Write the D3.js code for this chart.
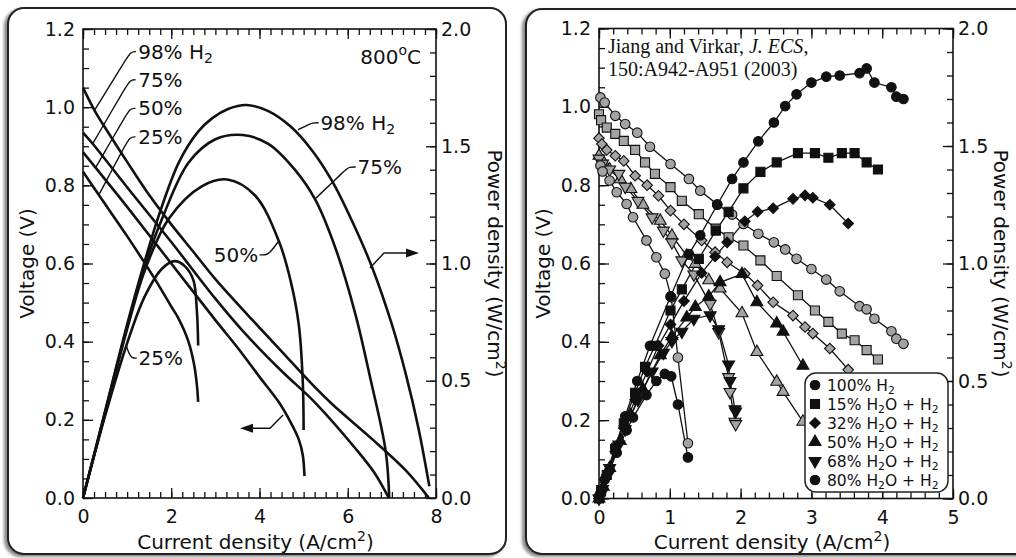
<!DOCTYPE html>
<html>
<head>
<meta charset="utf-8">
<script src="https://cdn.jsdelivr.net/npm/d3@7"></script>
<style>
  html, body { margin: 0; padding: 0; background: #fff; }
  svg { display: block; }
  text { font-family: "DejaVu Sans", sans-serif; fill: #111; }
  .tick text { font-size: 19px; }
  .serif { font-family: "Liberation Serif", "DejaVu Serif", serif; }
</style>
</head>
<body>
<svg id="chart" width="1016" height="558"></svg>
<script>
// ---------- Left panel: model curves at 800 °C (current density A/cm², voltage V, power W/cm²) ----------
const modelV98 = [[0,1.05],[0.27,0.99],[0.6,0.93],[1.0,0.86],[1.5,0.775],[2.0,0.70],[2.5,0.63],[3.0,0.56],[3.76,0.465],[4.5,0.375],[5.2,0.29],[5.65,0.24],[6.56,0.15],[7.32,0.07],[7.84,0.0]];
const modelV75 = [[0,0.935],[0.23,0.905],[1.0,0.795],[2.0,0.655],[3.0,0.51],[3.64,0.425],[4.5,0.325],[5.27,0.243],[6.18,0.126],[6.6,0.065],[6.93,0.0]];
const modelV50 = [[0,0.885],[0.28,0.846],[1.0,0.745],[2.0,0.60],[3.0,0.455],[3.5,0.385],[4.0,0.31],[4.44,0.245],[4.7,0.195],[4.89,0.15],[4.98,0.11],[5.02,0.056]];
const modelV25 = [[0,0.835],[0.36,0.775],[1.0,0.67],[1.63,0.56],[2.0,0.49],[2.16,0.46],[2.39,0.40],[2.52,0.34],[2.58,0.29],[2.61,0.246]];

const modelP98 = [[0,0],[0.5,0.37],[1.0,0.74],[1.4,1.01],[1.71,1.2],[2.17,1.43],[2.6,1.56],[2.93,1.62],[3.3,1.66],[3.7,1.676],[4.2,1.65],[4.7,1.585],[5.2,1.48],[5.65,1.35],[6.1,1.18],[6.56,0.98],[7.0,0.74],[7.32,0.525],[7.6,0.3],[7.85,0.05]];
const modelP75 = [[0,0],[0.5,0.365],[1.0,0.73],[1.4,0.99],[1.79,1.19],[2.39,1.43],[3.0,1.53],[3.62,1.548],[4.2,1.51],[4.8,1.40],[5.27,1.27],[5.75,1.05],[6.18,0.779],[6.5,0.52],[6.86,0.2],[6.94,0.0]];
const modelP50 = [[0,0],[0.5,0.36],[1.0,0.72],[1.4,0.97],[1.94,1.19],[2.7,1.33],[3.27,1.358],[3.9,1.29],[4.44,1.095],[4.7,0.93],[4.89,0.74],[4.98,0.5],[5.0,0.29]];
const modelP25 = [[0,0],[0.5,0.35],[1.0,0.66],[1.4,0.86],[1.8,0.98],[2.08,1.01],[2.3,0.99],[2.5,0.93],[2.58,0.8],[2.61,0.65]];

// ---------- Right panel: measured data (Jiang and Virkar) ----------
const cur100 = [0.02,0.08,0.23,0.37,0.54,0.72,1.01,1.27,1.43,1.67,1.88,2.04,2.25,2.47,2.63,2.79,3.00,3.21,3.40,3.68,3.78,3.89,4.13,4.20,4.30];
const volt100 = [1.024,1.011,0.977,0.956,0.934,0.898,0.854,0.816,0.786,0.751,0.725,0.701,0.676,0.654,0.636,0.612,0.586,0.559,0.529,0.491,0.483,0.459,0.427,0.408,0.395];
const pow100 = [0.02,0.08,0.22,0.35,0.50,0.65,0.86,1.04,1.12,1.25,1.36,1.43,1.52,1.60,1.67,1.72,1.77,1.795,1.80,1.81,1.83,1.77,1.75,1.71,1.70];

const cur15 = [0.0,0.03,0.11,0.23,0.35,0.51,0.65,0.79,1.01,1.17,1.41,1.65,1.83,2.04,2.28,2.51,2.81,3.05,3.24,3.43,3.61,3.78,3.94];
const volt15 = [0.981,0.966,0.947,0.931,0.913,0.890,0.858,0.829,0.795,0.760,0.726,0.689,0.667,0.646,0.608,0.568,0.519,0.480,0.451,0.421,0.404,0.379,0.355];
const pow15 = [0.0,0.03,0.10,0.21,0.32,0.45,0.56,0.65,0.80,0.89,1.02,1.14,1.22,1.32,1.39,1.43,1.47,1.47,1.45,1.47,1.47,1.43,1.40];

const cur32 = [0.0,0.04,0.11,0.23,0.35,0.51,0.68,0.84,1.01,1.2,1.45,1.64,1.81,2.06,2.24,2.46,2.74,2.91,3.02,3.26,3.52];
const volt32 = [0.92,0.905,0.89,0.875,0.862,0.824,0.80,0.773,0.735,0.70,0.659,0.629,0.603,0.574,0.544,0.501,0.467,0.438,0.421,0.383,0.329];
const pow32 = [0.0,0.04,0.10,0.20,0.30,0.42,0.54,0.65,0.74,0.84,0.96,1.03,1.09,1.18,1.22,1.235,1.275,1.29,1.28,1.25,1.17];

const cur50 = [0.0,0.06,0.15,0.3,0.45,0.62,0.865,1.03,1.24,1.36,1.55,1.71,2.02,2.23,2.51,2.60,2.88];
const volt50 = [0.875,0.86,0.84,0.815,0.79,0.75,0.709,0.671,0.62,0.599,0.557,0.536,0.473,0.374,0.298,0.272,0.196];
const pow50 = [0.0,0.05,0.13,0.245,0.355,0.465,0.61,0.69,0.77,0.815,0.86,0.92,0.955,0.835,0.745,0.71,0.565];

const cur68 = [0.0,0.05,0.15,0.28,0.37,0.55,0.75,0.91,1.03,1.17,1.34,1.57,1.69,1.83,1.85,1.92,1.93];
const volt68 = [0.868,0.855,0.84,0.829,0.796,0.76,0.718,0.684,0.654,0.608,0.572,0.497,0.425,0.31,0.272,0.196,0.19];
const pow68 = [0.0,0.04,0.13,0.23,0.295,0.42,0.54,0.62,0.67,0.71,0.765,0.78,0.72,0.57,0.50,0.38,0.37];

const cur80 = [0.02,0.05,0.15,0.25,0.39,0.48,0.67,0.81,0.93,1.02,1.115,1.256];
const volt80 = [0.85,0.835,0.812,0.782,0.752,0.718,0.659,0.616,0.574,0.514,0.36,0.141];
const pow80 = [0.02,0.04,0.12,0.195,0.29,0.345,0.44,0.50,0.53,0.52,0.40,0.175];

const legendNames = [
  [["100% H",""],["2","sub"]],
  [["15% H",""],["2","sub"],["O + H",""],["2","sub"]],
  [["32% H",""],["2","sub"],["O + H",""],["2","sub"]],
  [["50% H",""],["2","sub"],["O + H",""],["2","sub"]],
  [["68% H",""],["2","sub"],["O + H",""],["2","sub"]],
  [["80% H",""],["2","sub"],["O + H",""],["2","sub"]]
];
const legendShapes = ["circle","square","diamond","up","down","circle"];

// ---------- Tick values ----------
const leftXMajor = [0,2,4,6,8];
const leftXMinor = d3.range(0, 8.001, 0.25);
const rightXMajor = [0,1,2,3,4,5];
const rightXMinor = d3.range(0, 5.001, 0.2);
const voltMajor = [0,0.2,0.4,0.6,0.8,1.0,1.2];
const voltMinor = d3.range(0, 1.2001, 0.05);
const powMajor = [0,0.5,1.0,1.5,2.0];
const powMinor = d3.range(0, 2.0001, 0.1);

// ---------- Drawing ----------
const svg = d3.select("#chart");
const defs = svg.append("defs");
const sh = defs.append("filter").attr("id","shadow").attr("x","-5%").attr("y","-5%").attr("width","110%").attr("height","110%");
sh.append("feDropShadow").attr("dx",-3).attr("dy",2).attr("stdDeviation",1.6).attr("flood-color","#555").attr("flood-opacity",0.7);

// panel frames
svg.append("rect").attr("x",8).attr("y",8).attr("width",498).attr("height",546).attr("rx",16)
  .attr("fill","#fff").attr("stroke","#222").attr("stroke-width",2).attr("filter","url(#shadow)");
svg.append("rect").attr("x",526).attr("y",9).attr("width",520).attr("height",545).attr("rx",16)
  .attr("fill","#fff").attr("stroke","#222").attr("stroke-width",2).attr("filter","url(#shadow)");

function rich(sel, parts, size) {
  let off = 0;
  parts.forEach(([s, mode]) => {
    const target = mode === "sub" ? size * 0.22 : mode === "sup" ? -size * 0.42 : 0;
    const t = sel.append("tspan").text(s);
    if (target - off !== 0) t.attr("dy", target - off);
    if (mode) t.attr("font-size", size * 0.7);
    off = target;
  });
}

function axes(g, x, yV, yP, xMaj, xMin, powerTitleGap) {
  const [x0, x1] = x.range();
  const [yb, yt] = yV.range();
  // bottom
  g.append("g").attr("transform", `translate(0,${yb})`)
    .call(d3.axisBottom(x).tickValues(xMin).tickSize(-6).tickSizeOuter(0).tickFormat(""));
  g.append("g").attr("transform", `translate(0,${yb})`)
    .call(d3.axisBottom(x).tickValues(xMaj).tickSize(-10).tickSizeOuter(0).tickPadding(12).tickFormat(d3.format("d")));
  // top
  g.append("g").attr("transform", `translate(0,${yt})`)
    .call(d3.axisTop(x).tickValues(xMin).tickSize(-6).tickSizeOuter(0).tickFormat(""));
  g.append("g").attr("transform", `translate(0,${yt})`)
    .call(d3.axisTop(x).tickValues(xMaj).tickSize(-10).tickSizeOuter(0).tickFormat(""));
  // left (voltage)
  g.append("g").attr("transform", `translate(${x0},0)`)
    .call(d3.axisLeft(yV).tickValues(voltMinor).tickSize(-6).tickSizeOuter(0).tickFormat(""));
  g.append("g").attr("transform", `translate(${x0},0)`)
    .call(d3.axisLeft(yV).tickValues(voltMajor).tickSize(-10).tickSizeOuter(0).tickPadding(8).tickFormat(d3.format(".1f")));
  // right (power)
  g.append("g").attr("transform", `translate(${x1},0)`)
    .call(d3.axisRight(yP).tickValues(powMinor).tickSize(-6).tickSizeOuter(0).tickFormat(""));
  g.append("g").attr("transform", `translate(${x1},0)`)
    .call(d3.axisRight(yP).tickValues(powMajor).tickSize(-10).tickSizeOuter(0).tickPadding(5).tickFormat(d3.format(".1f")));
  g.selectAll(".domain").remove();
  g.selectAll(".tick line").attr("stroke", "#111").attr("stroke-width", 1.3);
  g.selectAll("g").attr("font-size", null).attr("font-family", null);
  g.append("rect").attr("x", x0).attr("y", yt).attr("width", x1 - x0).attr("height", yb - yt)
    .attr("fill", "none").attr("stroke", "#111").attr("stroke-width", 1.6);

  const cx = (x0 + x1) / 2;
  const title = g.append("text").attr("x", cx - 4).attr("y", 549).attr("text-anchor", "middle").attr("font-size", 20);
  rich(title, [["Current density (A/cm",""],["2","sup"],[")",""]], 20);
  const cy = (yb + yt) / 2;
  g.append("text").attr("transform", `translate(${x0 - 49},${cy}) rotate(-90)`)
    .attr("text-anchor", "middle").attr("font-size", 20).text("Voltage (V)");
  const pt = g.append("text").attr("transform", `translate(${x1 + powerTitleGap},${cy}) rotate(90)`)
    .attr("text-anchor", "middle").attr("font-size", 20);
  rich(pt, [["Power density (W/cm",""],["2","sup"],[")",""]], 20);
}

// ----- Left panel -----
const xL = d3.scaleLinear().domain([0, 8]).range([83, 436]);
const vL = d3.scaleLinear().domain([0, 1.2]).range([498, 29]);
const pL = d3.scaleLinear().domain([0, 2]).range([498, 29]);
const gL = svg.append("g");
axes(gL, xL, vL, pL, leftXMajor, leftXMinor, 52);

const curve = d3.curveCatmullRom.alpha(0.5);
const lineV = d3.line().x(d => xL(d[0])).y(d => vL(d[1])).curve(curve);
const lineP = d3.line().x(d => xL(d[0])).y(d => pL(d[1])).curve(curve);
const curveLayer = gL.append("g").attr("fill", "none").attr("stroke", "#111").attr("stroke-width", 2.6)
  .attr("stroke-linejoin", "round");
[modelV98, modelV75, modelV50, modelV25].forEach(d => curveLayer.append("path").attr("d", lineV(d)));
[modelP98, modelP75, modelP50, modelP25].forEach(d => curveLayer.append("path").attr("d", lineP(d)));

// labels and leaders, positioned in (current, voltage) units
const leaderLine = d3.line().x(d => xL(d[0])).y(d => vL(d[1])).curve(d3.curveBasis);
const leaders = [
  [[0.265,0.993],[0.95,1.118],[1.08,1.142],[1.20,1.142]],
  [[0.227,0.908],[0.95,1.048],[1.07,1.070],[1.19,1.070]],
  [[0.279,0.844],[0.95,0.975],[1.07,0.997],[1.19,0.997]],
  [[0.356,0.775],[0.95,0.902],[1.07,0.924],[1.19,0.924]],
  [[4.873,0.942],[5.10,0.955],[5.20,0.960],[5.34,0.960]],
  [[5.258,0.765],[5.95,0.840],[6.03,0.847],[6.18,0.847]],
  [[4.419,0.655],[4.22,0.625],[4.13,0.622],[4.00,0.622]],
  [[0.975,0.391],[1.04,0.370],[1.10,0.358],[1.22,0.358]]
];
const leaderLayer = gL.append("g").attr("fill", "none").attr("stroke", "#111").attr("stroke-width", 1.4);
leaders.forEach(d => leaderLayer.append("path").attr("d", leaderLine(d)));

const labels = [
  {t: [["98% H",""],["2","sub"]], i: 1.25, v: 1.142, a: "start"},
  {t: [["75%",""]], i: 1.25, v: 1.070, a: "start"},
  {t: [["50%",""]], i: 1.25, v: 0.997, a: "start"},
  {t: [["25%",""]], i: 1.25, v: 0.924, a: "start"},
  {t: [["98% H",""],["2","sub"]], i: 5.38, v: 0.960, a: "start"},
  {t: [["75%",""]], i: 6.22, v: 0.847, a: "start"},
  {t: [["50%",""]], i: 3.97, v: 0.622, a: "end"},
  {t: [["25%",""]], i: 1.26, v: 0.358, a: "start"},
  {t: [["800",""],["o","sup"],["C",""]], i: 7.66, v: 1.129, a: "end"}
];
labels.forEach(l => {
  const t = gL.append("text").attr("x", xL(l.i)).attr("y", vL(l.v) + 7).attr("text-anchor", l.a).attr("font-size", 20);
  rich(t, l.t, 20);
});

// arrows pointing to the axis each family belongs to
const arrowLine = d3.line().x(d => xL(d[0])).y(d => vL(d[1]));
function arrow(pts, tip) {
  leaderLayer.append("path").attr("d", arrowLine(pts));
  const [tx, ty] = [xL(tip[0]), vL(tip[1])];
  const last = pts[pts.length - 1];
  const dir = Math.sign(tx - xL(last[0]));
  gL.append("path").attr("fill", "#111")
    .attr("d", `M${tx},${ty} L${tx - dir * 13},${ty - 4.5} L${tx - dir * 13},${ty + 4.5} Z`);
}
arrow([[6.504,0.5885],[6.822,0.6269],[7.40,0.6269]], [7.615,0.6269]);
arrow([[4.533,0.2124],[4.238,0.1783],[3.83,0.1783]], [3.558,0.1783]);

// ----- Right panel -----
const xR = d3.scaleLinear().domain([0, 5]).range([599, 953]);
const vR = d3.scaleLinear().domain([0, 1.2]).range([498.5, 28.5]);
const pR = d3.scaleLinear().domain([0, 2]).range([498.5, 28.5]);
const gR = svg.append("g");
axes(gR, xR, vR, pR, rightXMajor, rightXMinor, 41);

const note = gR.append("text").attr("class", "serif").attr("x", 608).attr("y", vR(1.1535) + 6).attr("font-size", 20);
note.append("tspan").text("Jiang and Virkar, ");
note.append("tspan").attr("font-style", "italic").text("J. ECS");
note.append("tspan").text(",");
gR.append("text").attr("class", "serif").attr("x", 608).attr("y", vR(1.094) + 6).attr("font-size", 20)
  .text("150:A942-A951 (2003)");

const series = [
  {cur: cur100, v: volt100, p: pow100, shape: "circle"},
  {cur: cur15, v: volt15, p: pow15, shape: "square"},
  {cur: cur32, v: volt32, p: pow32, shape: "diamond"},
  {cur: cur50, v: volt50, p: pow50, shape: "up"},
  {cur: cur68, v: volt68, p: pow68, shape: "down"},
  {cur: cur80, v: volt80, p: pow80, shape: "circle"}
];

function symbolPath(shape) {
  switch (shape) {
    case "circle": return d3.symbol(d3.symbolCircle, 72)();
    case "square": return d3.symbol(d3.symbolSquare, 82)();
    case "diamond": return d3.symbol(d3.symbolSquare, 56)();
    default: return d3.symbol(d3.symbolTriangle, 62)();
  }
}
function symbolRotate(shape) {
  return shape === "diamond" ? 45 : shape === "down" ? 180 : 0;
}
function marker(layer, shape, x, y, fill) {
  layer.append("path").attr("d", symbolPath(shape))
    .attr("transform", `translate(${x},${y}) rotate(${symbolRotate(shape)})`)
    .attr("fill", fill).attr("stroke", "#111").attr("stroke-width", 1.1);
}

const linesR = gR.append("g").attr("fill", "none").attr("stroke", "#111").attr("stroke-width", 1.3);
series.forEach(s => {
  const vv = s.cur.map((c, k) => [xR(c), vR(s.v[k])]);
  const pp = s.cur.map((c, k) => [xR(c), pR(s.p[k])]);
  linesR.append("path").attr("d", d3.line()(vv));
  linesR.append("path").attr("d", d3.line()(pp));
});
const grayLayer = gR.append("g");
const blackLayer = gR.append("g");
series.forEach(s => {
  s.cur.forEach((c, k) => {
    marker(blackLayer, s.shape, xR(c), pR(s.p[k]), "#111");
  });
});
series.forEach(s => {
  s.cur.forEach((c, k) => {
    marker(grayLayer, s.shape, xR(c), vR(s.v[k]), "#a3a3a3");
  });
});

// legend
const lg = gR.append("g");
lg.append("rect").attr("x", 805).attr("y", 373).attr("width", 143).attr("height", 119).attr("rx", 11)
  .attr("fill", "#fff").attr("stroke", "#222").attr("stroke-width", 1.5);
legendNames.forEach((nm, k) => {
  const cy = 385 + k * 19;
  marker(lg, legendShapes[k], 815, cy, "#111");
  const t = lg.append("text").attr("x", 827).attr("y", cy + 5.5).attr("font-size", 15.5);
  rich(t, nm, 15.5);
});
</script>
</body>
</html>
